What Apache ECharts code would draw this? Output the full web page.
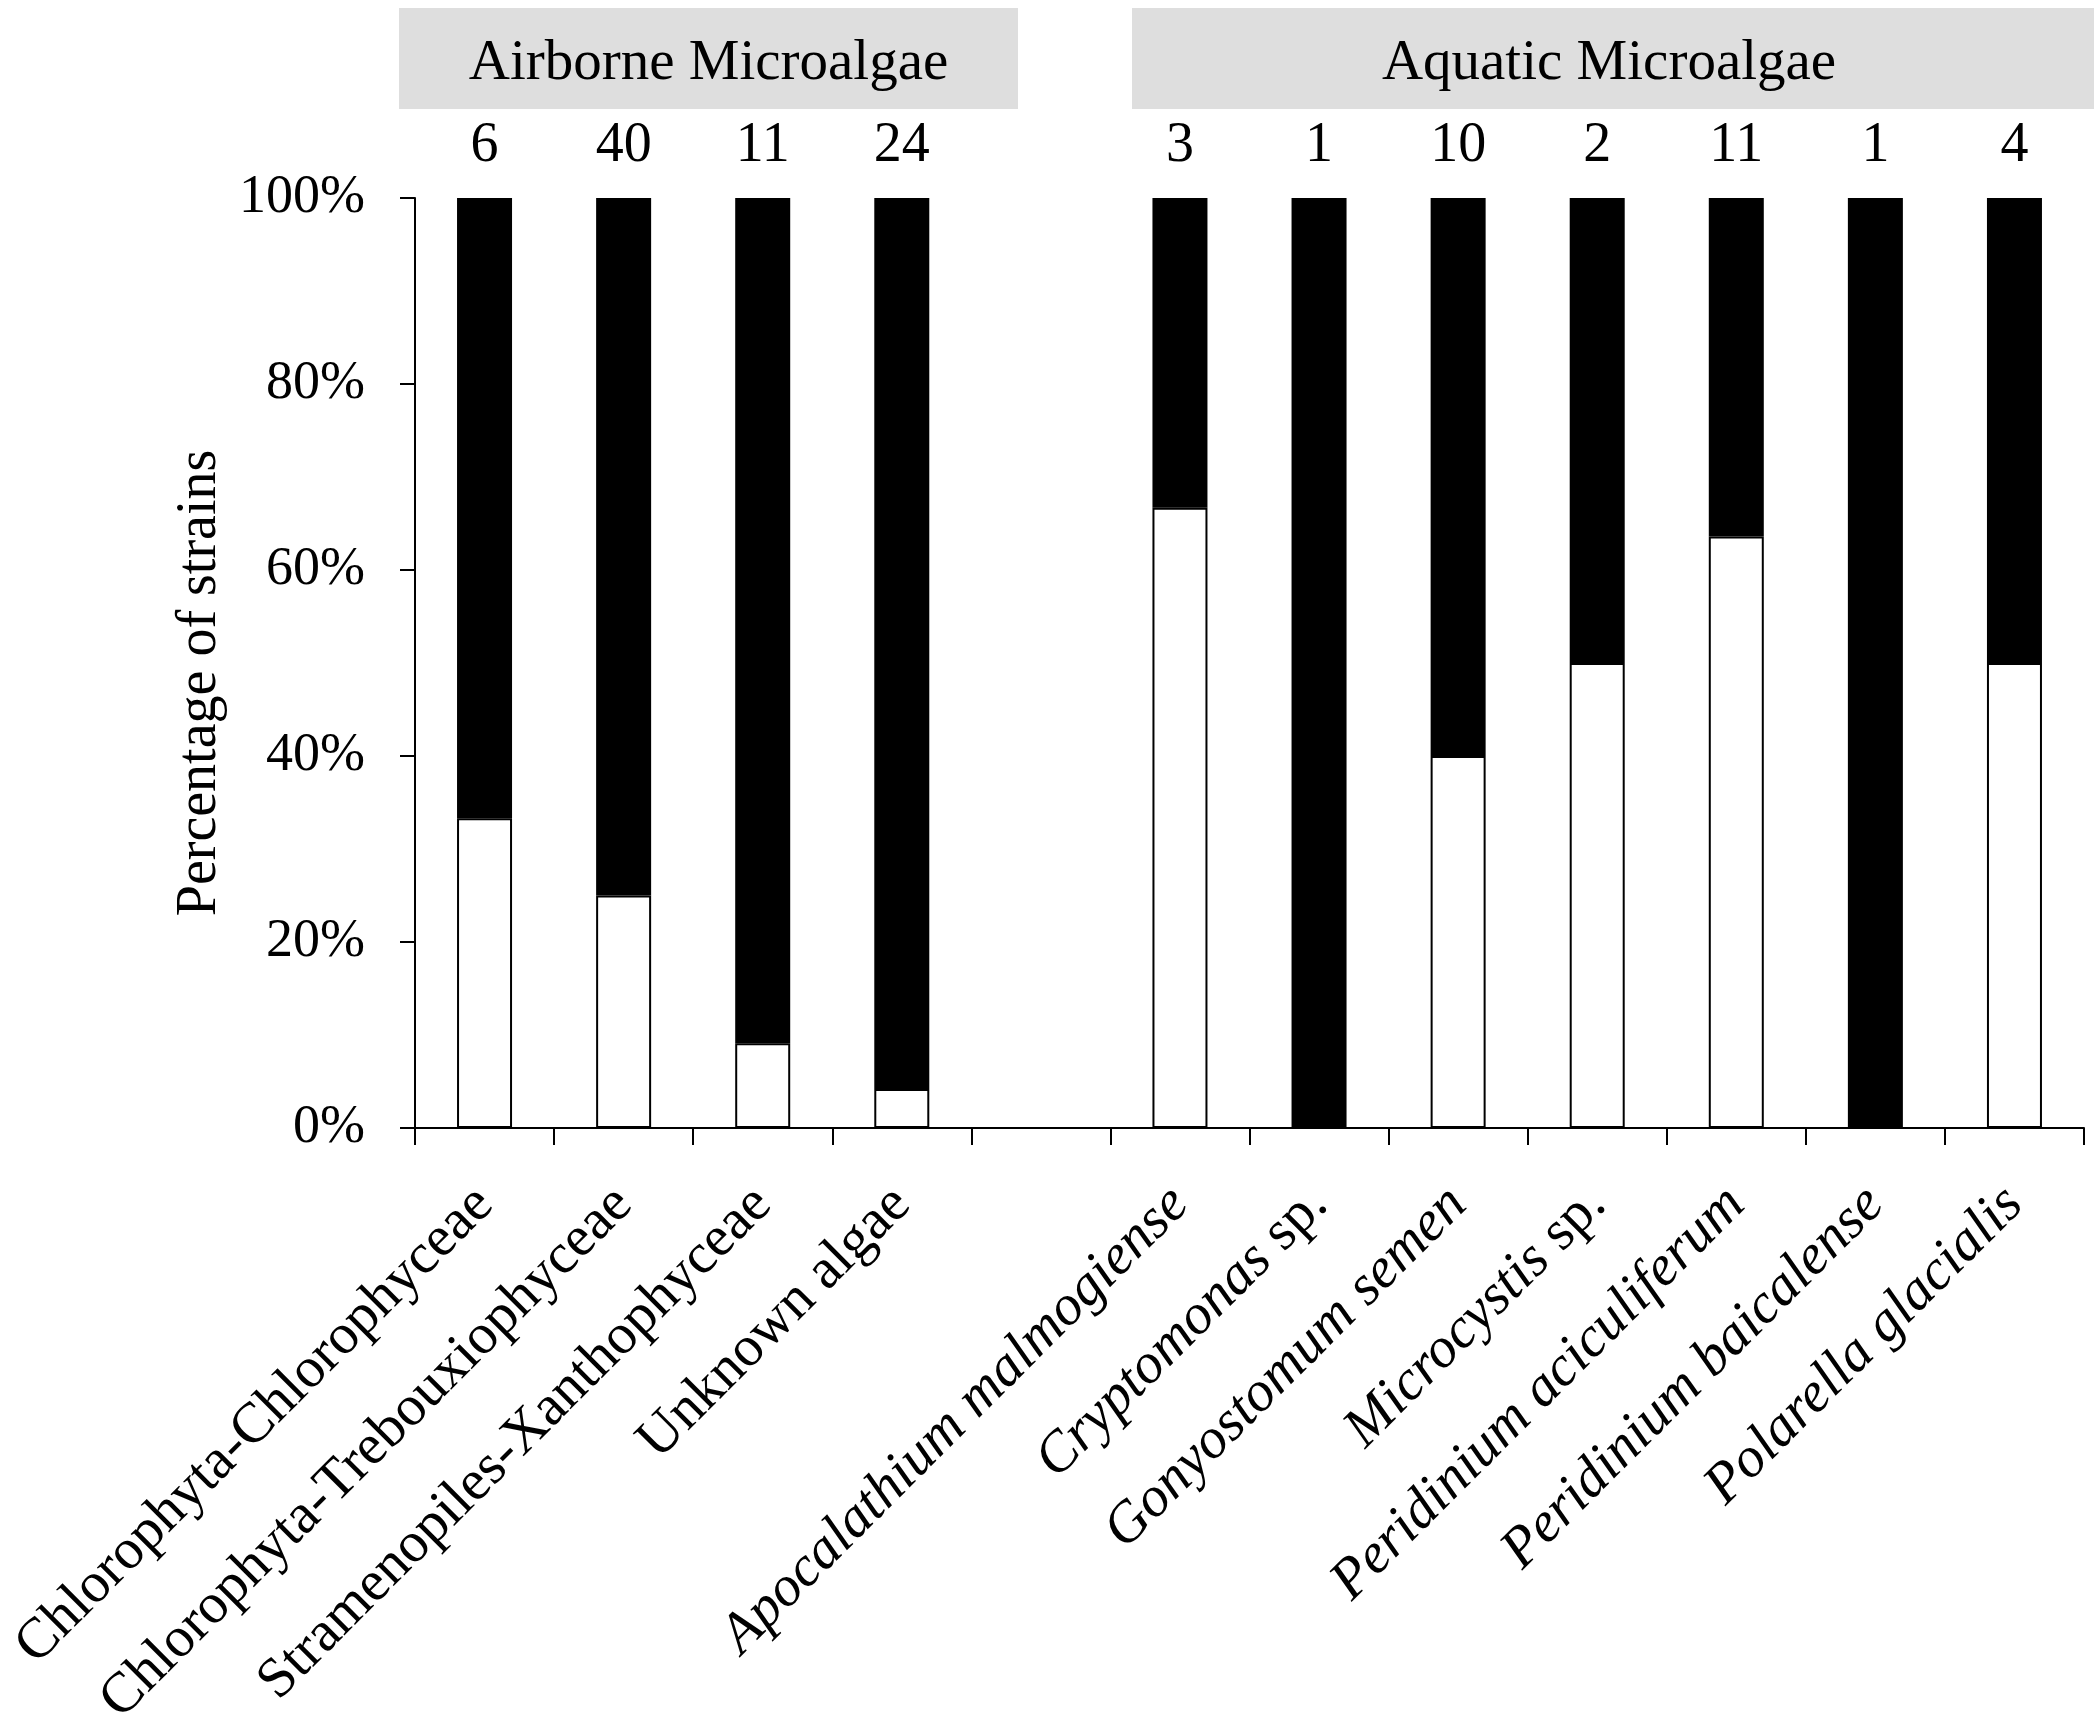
<!DOCTYPE html>
<html lang="en">
<head>
<meta charset="UTF-8">
<title>Percentage of strains</title>
<script src="https://cdn.jsdelivr.net/npm/echarts@6/dist/echarts.min.js"></script>
<style>
    html, body { margin: 0; padding: 0; background: #fff; }
    #container { width: 2094px; height: 1724px; }
</style>
</head>
<body>
<div id="container"></div>
<script>
    // categories (empty slot separates the two groups)
    var categories = [
        'Chlorophyta-Chlorophyceae', 'Chlorophyta-Trebouxiophyceae', 'Stramenopiles-Xanthophyceae', 'Unknown algae',
        '',
        'Apocalathium malmogiense', 'Cryptomonas sp.', 'Gonyostomum semen', 'Microcystis sp.',
        'Peridinium aciculiferum', 'Peridinium baicalense', 'Polarella glacialis'
    ];
    // number of strains shown above each bar
    var counts = ['6', '40', '11', '24', '', '3', '1', '10', '2', '11', '1', '4'];
    // white (lower) part of each bar, in %
    var whitePct = [33.3, 25, 9.1, 4.2, '-', 66.7, 0, 40, 50, 63.6, 0, 50];
    // black (upper) part of each bar, in %
    var blackPct = [66.7, 75, 90.9, 95.8, '-', 33.3, 100, 60, 50, 36.4, 100, 50];
    var yTicks = [0, 20, 40, 60, 80, 100];
    var firstAquatic = 5;

    var FONT = 'Liberation Serif';
    var FS = 56;

    function labelFormatter(name, idx) {
        if (!name) return '';
        if (idx < firstAquatic) return '{rm|' + name + '}';
        if (/ sp\.$/.test(name)) {
            return '{it|' + name.replace(/ sp\.$/, '') + '}{rm| sp.}';
        }
        return '{it|' + name + '}';
    }

    var dom = document.getElementById('container');
    var myChart = echarts.init(dom);
    var option = {
        backgroundColor: '#fff',
        animation: false,
        grid: {
            left: 415, right: 10, top: 198, bottom: 596,
            containLabel: false,
            outerBoundsMode: 'none'
        },
        graphic: [
            {
                type: 'rect', left: 399, top: 8,
                shape: { width: 619, height: 101 },
                style: { fill: '#dedede' },
                textContent: { style: { text: 'Airborne Microalgae', fontSize: 57, fontFamily: FONT, fill: '#000' } },
                textConfig: { position: 'inside', offset: [0, 6] }
            },
            {
                type: 'rect', left: 1132, top: 8,
                shape: { width: 962, height: 101 },
                style: { fill: '#dedede' },
                textContent: { style: { text: 'Aquatic Microalgae', fontSize: 57, fontFamily: FONT, fill: '#000' } },
                textConfig: { position: 'inside', offset: [-4, 6] }
            }
        ],
        xAxis: [
            {
                type: 'category',
                data: categories,
                axisLine: { lineStyle: { color: '#000', width: 2 } },
                axisTick: { show: true, interval: 0, length: 17, lineStyle: { color: '#000', width: 2 } },
                axisLabel: {
                    interval: 0,
                    rotate: 45,
                    margin: 68,
                    color: '#000',
                    formatter: labelFormatter,
                    rich: {
                        rm: { fontFamily: FONT, fontSize: 57, color: '#000' },
                        it: { fontFamily: FONT, fontSize: 57, fontStyle: 'italic', color: '#000' }
                    }
                },
                splitLine: { show: false }
            },
            {
                type: 'category',
                position: 'top',
                data: counts,
                axisLine: { show: false },
                axisTick: { show: false },
                axisLabel: { interval: 0, margin: 24, color: '#000', fontFamily: FONT, fontSize: FS },
                splitLine: { show: false }
            }
        ],
        yAxis: {
            type: 'value',
            min: yTicks[0],
            max: yTicks[yTicks.length - 1],
            interval: yTicks[1] - yTicks[0],
            name: 'Percentage of strains',
            nameLocation: 'middle',
            nameRotate: 90,
            nameGap: 182,
            nameTextStyle: { fontFamily: FONT, fontSize: FS, color: '#000', padding: [0, 40, 0, 0] },
            axisLine: { show: true, lineStyle: { color: '#000', width: 2 } },
            axisTick: { show: true, length: 15, lineStyle: { color: '#000', width: 2 } },
            axisLabel: { formatter: '{value}%', margin: 50, color: '#000', fontFamily: FONT, fontSize: 54 },
            splitLine: { show: false }
        },
        series: [
            {
                name: 'white',
                type: 'bar',
                stack: 'strains',
                barWidth: 55,
                data: whitePct,
                itemStyle: { color: '#fff', borderColor: '#000', borderWidth: 2 }
            },
            {
                name: 'black',
                type: 'bar',
                stack: 'strains',
                barWidth: 55,
                data: blackPct,
                itemStyle: { color: '#000', borderColor: '#000', borderWidth: 2 }
            }
        ]
    };
    myChart.setOption(option);
</script>
</body>
</html>
